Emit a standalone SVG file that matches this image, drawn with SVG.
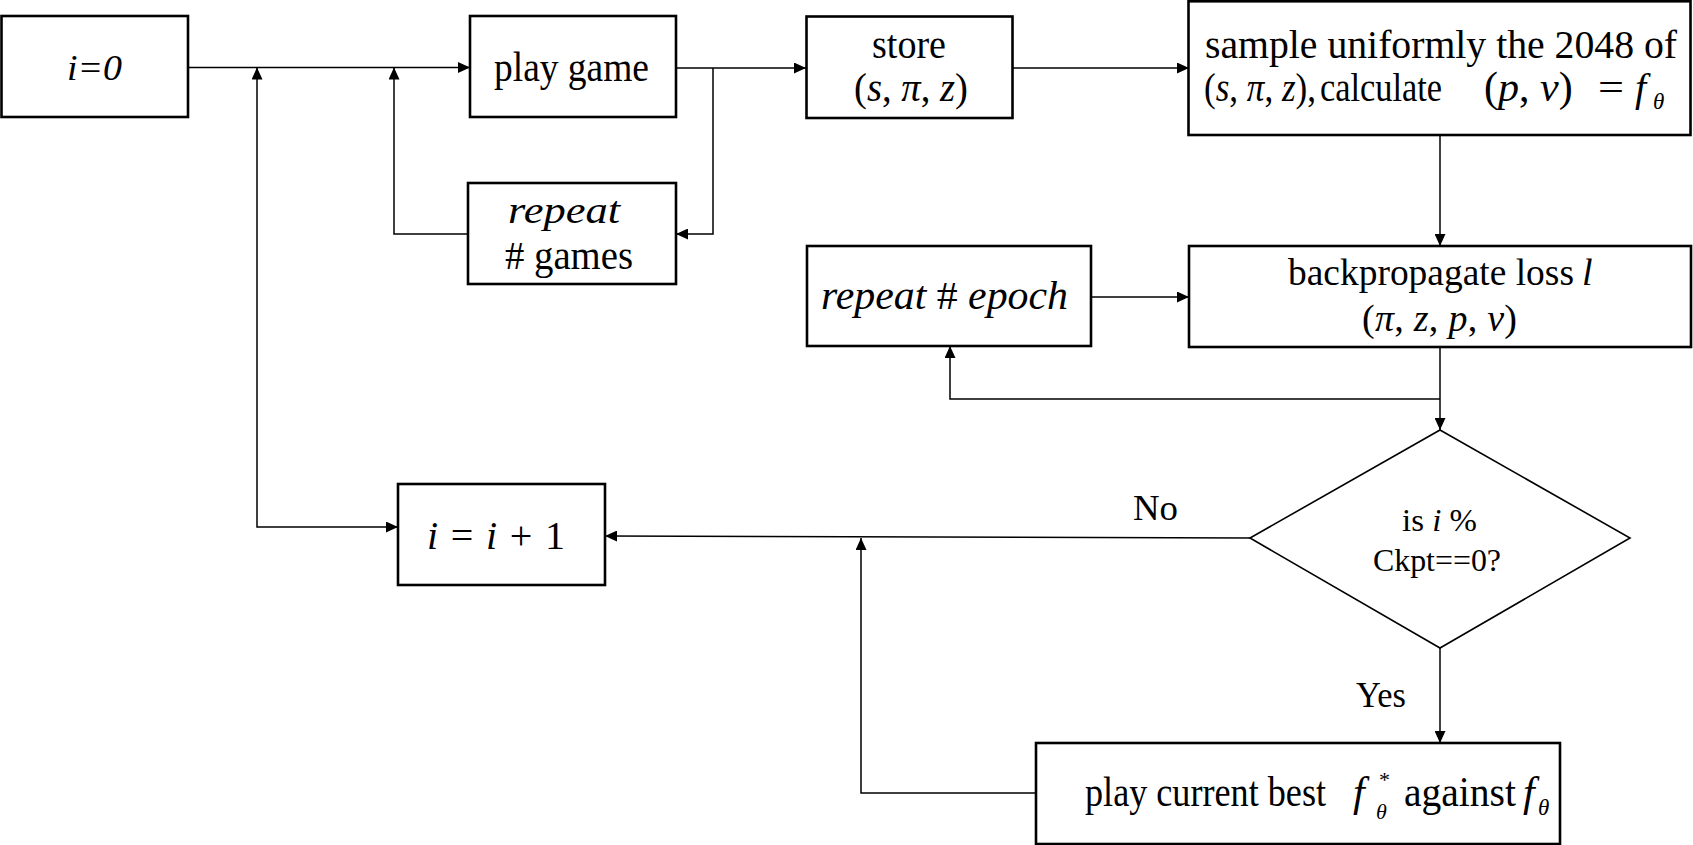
<svg xmlns="http://www.w3.org/2000/svg" width="1693" height="845" viewBox="0 0 1693 845">
<style>
.box{fill:#fff;stroke:#000;stroke-width:2.6}
.dia{fill:#fff;stroke:#000;stroke-width:1.6}
.con{fill:none;stroke:#000;stroke-width:1.5}
text{font-family:"Liberation Serif","Times New Roman",serif;fill:#000}
.t42{font-size:42px}
.t40{font-size:40px}
.t38{font-size:38px}
.t30{font-size:31px}
.t35{font-size:35px}
.sub{font-size:23px}
.sm{font-size:22px}
.it{font-style:italic}
.up{font-style:normal}
</style>
<defs>
<marker id="arr" viewBox="0 0 12 11" refX="12" refY="5.5" markerWidth="12" markerHeight="11" markerUnits="userSpaceOnUse" orient="auto-start-reverse">
<path d="M0,0 L12,5.5 L0,11 z" fill="#000"/>
</marker>
</defs>

<g id="connectors">
<path class="con" d="M188,67.5 H470" marker-end="url(#arr)"/>
<path class="con" d="M257,67.5 V527 H398" marker-start="url(#arr)" marker-end="url(#arr)"/>
<path class="con" d="M468,234 H394 V67.5" marker-end="url(#arr)"/>
<path class="con" d="M676,68 H806" marker-end="url(#arr)"/>
<path class="con" d="M713,68 V234 H676" marker-end="url(#arr)"/>
<path class="con" d="M1013,68 H1189" marker-end="url(#arr)"/>
<path class="con" d="M1440,135 V246" marker-end="url(#arr)"/>
<path class="con" d="M1091,297 H1189" marker-end="url(#arr)"/>
<path class="con" d="M1440,347 V430" marker-end="url(#arr)"/>
<path class="con" d="M1440,399 H950 V346" marker-end="url(#arr)"/>
<path class="con" d="M1250,538 L605,536" marker-end="url(#arr)"/>
<path class="con" d="M1440,648 V743" marker-end="url(#arr)"/>
<path class="con" d="M1036,793 H861 V538" marker-end="url(#arr)"/>
<text class="t35" x="1133" y="520" textLength="45" lengthAdjust="spacingAndGlyphs">No</text>
<text class="t35" x="1356" y="707" textLength="50" lengthAdjust="spacingAndGlyphs">Yes</text>
</g>

<g id="n_i0">
<rect class="box" x="1.5" y="16" width="186.5" height="101"/>
<text class="t35 it" x="67" y="80" textLength="55" lengthAdjust="spacingAndGlyphs">i=0</text>
</g>

<g id="n_play">
<rect class="box" x="470" y="16" width="206" height="101"/>
<text class="t42" x="494" y="81" textLength="155" lengthAdjust="spacingAndGlyphs">play game</text>
</g>

<g id="n_store">
<rect class="box" x="806.5" y="16.5" width="206" height="101.5"/>
<text class="t40" x="872" y="58" textLength="74" lengthAdjust="spacingAndGlyphs">store</text>
<text class="t40" x="854" y="101" textLength="114" lengthAdjust="spacingAndGlyphs">(<tspan class="it">s</tspan>, <tspan class="it">π</tspan>, <tspan class="it">z</tspan>)</text>
</g>

<g id="n_sample">
<rect class="box" x="1188.5" y="1.3" width="502" height="133.7"/>
<text class="t40" x="1205" y="58" textLength="472" lengthAdjust="spacingAndGlyphs">sample uniformly the 2048 of</text>
<text class="t40" x="1204" y="101" textLength="112" lengthAdjust="spacingAndGlyphs">(<tspan class="it">s</tspan>, <tspan class="it">π</tspan>, <tspan class="it">z</tspan>),</text>
<text class="t40" x="1320" y="101" textLength="122" lengthAdjust="spacingAndGlyphs">calculate</text>
<text class="t42" x="1484" y="101">(<tspan class="it">p</tspan>, <tspan class="it">v</tspan>)</text>
<text class="t40" x="1598" y="101" textLength="26" lengthAdjust="spacingAndGlyphs">=</text>
<text class="t40 it" x="1635" y="101">f</text>
<text class="sub it" x="1653" y="109">θ</text>
</g>

<g id="n_repeat_games">
<rect class="box" x="468" y="183" width="208" height="101"/>
<text class="t38 it" x="508" y="223" textLength="112" lengthAdjust="spacingAndGlyphs">repeat</text>
<text class="t40" x="505" y="269" textLength="128" lengthAdjust="spacingAndGlyphs"># games</text>
</g>

<g id="n_epoch">
<rect class="box" x="807" y="246" width="284" height="100"/>
<text class="t40 it" x="821" y="309" textLength="247" lengthAdjust="spacingAndGlyphs">repeat <tspan class="up">#</tspan> epoch</text>
</g>

<g id="n_backprop">
<rect class="box" x="1189" y="246" width="502" height="101"/>
<text class="t38" x="1288" y="285" textLength="286" lengthAdjust="spacingAndGlyphs">backpropagate loss</text>
<text class="t38 it" x="1582" y="285">l</text>
<text class="t38" x="1362" y="331" textLength="155" lengthAdjust="spacing">(<tspan class="it">π</tspan>, <tspan class="it">z</tspan>, <tspan class="it">p</tspan>, <tspan class="it">v</tspan>)</text>
</g>

<g id="n_decision">
<polygon class="dia" points="1440,430 1630,538 1440,648 1250,538"/>
<text class="t30" x="1402" y="531" textLength="75" lengthAdjust="spacingAndGlyphs">is <tspan class="it">i</tspan> %</text>
<text class="t30" x="1373" y="571" textLength="128" lengthAdjust="spacingAndGlyphs">Ckpt==0?</text>
</g>

<g id="n_inc">
<rect class="box" x="398" y="484" width="207" height="101"/>
<text class="t40" x="427" y="549" textLength="138" lengthAdjust="spacing"><tspan class="it">i</tspan> = <tspan class="it">i</tspan> + 1</text>
</g>

<g id="n_best">
<rect class="box" x="1036" y="743" width="524" height="101"/>
<text class="t42" x="1085" y="806" textLength="241" lengthAdjust="spacingAndGlyphs">play current best</text>
<text class="t42 it" x="1353" y="806">f</text>
<text class="sm" x="1379" y="787">*</text>
<text class="sm it" x="1376" y="819">θ</text>
<text class="t42" x="1404" y="806" textLength="112" lengthAdjust="spacingAndGlyphs">against</text>
<text class="t42 it" x="1523" y="806">f</text>
<text class="sub it" x="1538" y="815">θ</text>
</g>
</svg>
